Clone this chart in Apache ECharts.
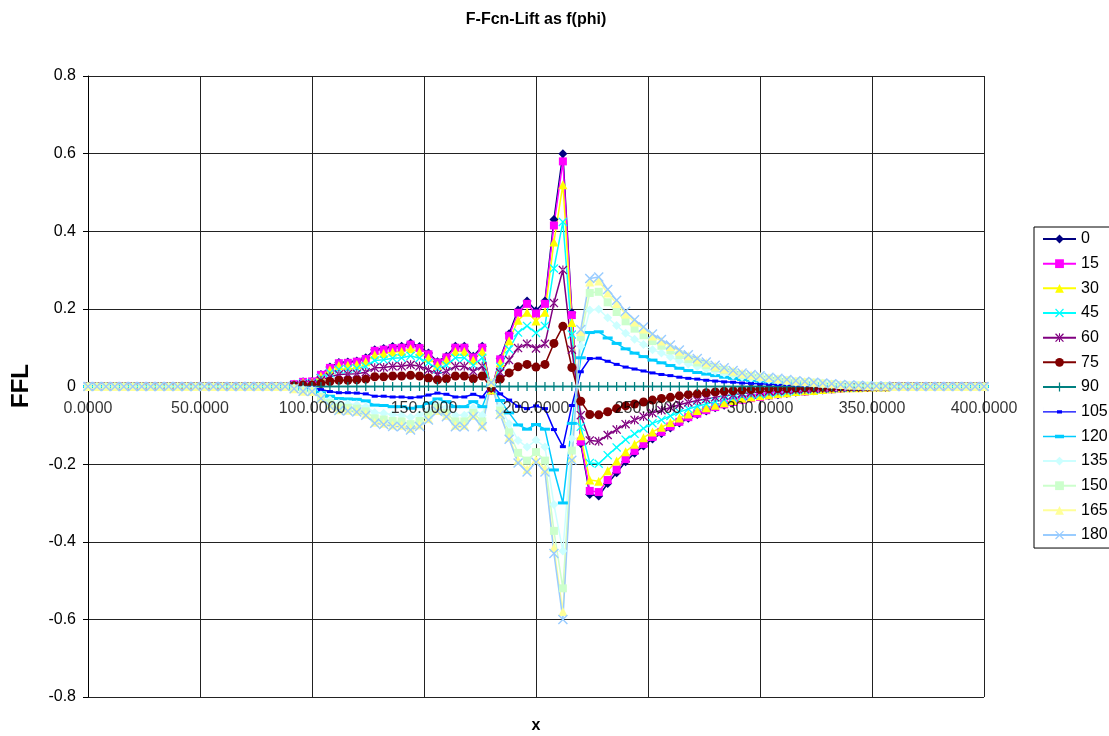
<!DOCTYPE html>
<html>
<head>
<meta charset="utf-8">
<script src="https://cdn.jsdelivr.net/npm/echarts@6/dist/echarts.min.js"></script>
<style>html,body{margin:0;padding:0;background:#fff}#c{width:1109px;height:736px}</style>
</head>
<body>
<div id="c"></div>
<script>
const xs = [0,4,8,12,16,20,24,28,32,36,40,44,48,52,56,60,64,68,72,76,80,84,88,92,96,100,104,108,112,116,120,124,128,132,136,140,144,148,152,156,160,164,168,172,176,180,184,188,192,196,200,204,208,212,216,220,224,228,232,236,240,244,248,252,256,260,264,268,272,276,280,284,288,292,296,300,304,308,312,316,320,324,328,332,336,340,344,348,352,356,360,364,368,372,376,380,384,388,392,396,400];

const xTicks = [0,50,100,150,200,250,300,350,400];

const s0 = [0,0,0,0,0,0,0,0,0,0,0,0,0,0,0,0,0,0,0,0,0,0,0,
0.006,0.012,0.013,0.031,0.050,0.062,0.063,0.066,0.074,0.095,0.098,0.103,0.104,0.112,0.103,0.086,0.064,0.078,0.104,0.104,0.078,0.104,
-0.010,0.072,0.136,0.197,0.220,0.195,0.220,0.430,0.600,0.190,
-0.147,-0.278,-0.282,-0.250,-0.222,-0.194,-0.172,-0.153,-0.135,-0.121,-0.107,-0.094,-0.082,-0.072,-0.063,-0.055,-0.048,-0.041,-0.035,-0.031,-0.028,-0.024,-0.021,-0.018,-0.015,-0.013,-0.011,-0.009,-0.007,-0.005,-0.004,-0.003,-0.002,-0.001,-0.001,
0,0,0,0,0,0,0,0,0,0,0];

const s15 = [0,0,0,0,0,0,0,0,0,0,0,0,0,0,0,0,0,0,0,0,0,0,0,
0.006,0.012,0.013,0.030,0.048,0.060,0.061,0.064,0.071,0.092,0.095,0.099,0.100,0.108,0.099,0.083,0.062,0.075,0.100,0.100,0.075,0.100,
-0.010,0.070,0.131,0.190,0.213,0.188,0.213,0.415,0.580,0.184,
-0.142,-0.269,-0.272,-0.241,-0.214,-0.187,-0.166,-0.148,-0.130,-0.117,-0.103,-0.091,-0.079,-0.070,-0.061,-0.053,-0.046,-0.040,-0.034,-0.030,-0.027,-0.023,-0.020,-0.017,-0.014,-0.013,-0.011,-0.009,-0.007,-0.005,-0.004,-0.003,-0.002,-0.001,-0.001,
0,0,0,0,0,0,0,0,0,0,0];

const s30 = [0,0,0,0,0,0,0,0,0,0,0,0,0,0,0,0,0,0,0,0,0,0,0,
0.005,0.010,0.011,0.027,0.043,0.054,0.055,0.057,0.064,0.082,0.085,0.089,0.090,0.097,0.089,0.074,0.055,0.068,0.090,0.090,0.068,0.090,
-0.009,0.062,0.118,0.171,0.191,0.169,0.191,0.372,0.520,0.165,
-0.127,-0.241,-0.244,-0.217,-0.192,-0.168,-0.149,-0.132,-0.117,-0.105,-0.093,-0.081,-0.071,-0.062,-0.055,-0.048,-0.042,-0.036,-0.030,-0.027,-0.024,-0.021,-0.018,-0.016,-0.013,-0.011,-0.010,-0.008,-0.006,-0.004,-0.003,-0.003,-0.002,-0.001,-0.001,
0,0,0,0,0,0,0,0,0,0,0];

const s45 = [0,0,0,0,0,0,0,0,0,0,0,0,0,0,0,0,0,0,0,0,0,0,0,
0.004,0.008,0.009,0.022,0.035,0.044,0.045,0.047,0.052,0.067,0.069,0.073,0.074,0.079,0.073,0.061,0.045,0.055,0.074,0.074,0.055,0.074,
-0.007,0.051,0.096,0.139,0.156,0.138,0.156,0.304,0.424,0.134,
-0.104,-0.197,-0.199,-0.177,-0.157,-0.137,-0.122,-0.108,-0.095,-0.086,-0.076,-0.066,-0.058,-0.051,-0.045,-0.039,-0.034,-0.029,-0.025,-0.022,-0.020,-0.017,-0.015,-0.013,-0.011,-0.009,-0.008,-0.006,-0.005,-0.004,-0.003,-0.002,-0.001,-0.001,-0.001,
0,0,0,0,0,0,0,0,0,0,0];

const s60 = [0,0,0,0,0,0,0,0,0,0,0,0,0,0,0,0,0,0,0,0,0,0,0,
0.003,0.006,0.007,0.016,0.025,0.031,0.032,0.033,0.037,0.048,0.049,0.052,0.052,0.056,0.052,0.043,0.032,0.039,0.052,0.052,0.039,0.052,
-0.005,0.036,0.068,0.099,0.110,0.098,0.110,0.215,0.300,0.095,
-0.074,-0.139,-0.141,-0.125,-0.111,-0.097,-0.086,-0.077,-0.068,-0.061,-0.054,-0.047,-0.041,-0.036,-0.032,-0.028,-0.024,-0.021,-0.018,-0.016,-0.014,-0.012,-0.011,-0.009,-0.008,-0.007,-0.006,-0.005,-0.004,-0.003,-0.002,-0.002,-0.001,-0.001,-0.001,
0,0,0,0,0,0,0,0,0,0,0];

const s75 = [0,0,0,0,0,0,0,0,0,0,0,0,0,0,0,0,0,0,0,0,0,0,0,
0.002,0.003,0.003,0.008,0.013,0.016,0.016,0.017,0.019,0.025,0.025,0.027,0.027,0.029,0.027,0.022,0.017,0.020,0.027,0.027,0.020,0.027,
-0.003,0.019,0.035,0.051,0.057,0.050,0.057,0.111,0.155,0.049,
-0.038,-0.072,-0.073,-0.065,-0.057,-0.050,-0.045,-0.040,-0.035,-0.031,-0.028,-0.024,-0.021,-0.019,-0.016,-0.014,-0.012,-0.011,-0.009,-0.008,-0.007,-0.006,-0.005,-0.005,-0.004,-0.003,-0.003,-0.002,-0.002,-0.001,-0.001,-0.001,-0.001,0,0,
0,0,0,0,0,0,0,0,0,0,0];

const s90 = [0,0,0,0,0,0,0,0,0,0,0,0,0,0,0,0,0,0,0,0,0,0,0,
0,0,0,0,0,0,0,0,0,0,0,0,0,0,0,0,0,0,0,0,0,0,
0,0,0,0,0,0,0,0,0,0,
0,0,0,0,0,0,0,0,0,0,0,0,0,0,0,0,0,0,0,0,0,0,0,0,0,0,0,0,0,0,0,0,0,0,0,
0,0,0,0,0,0,0,0,0,0,0];

const s105 = [0,0,0,0,0,0,0,0,0,0,0,0,0,0,0,0,0,0,0,0,0,0,0,
-0.002,-0.003,-0.003,-0.008,-0.013,-0.016,-0.016,-0.017,-0.019,-0.025,-0.025,-0.027,-0.027,-0.029,-0.027,-0.022,-0.017,-0.020,-0.027,-0.027,-0.020,-0.027,
0.003,-0.019,-0.035,-0.051,-0.057,-0.050,-0.057,-0.111,-0.155,-0.049,
0.038,0.072,0.073,0.065,0.057,0.050,0.045,0.040,0.035,0.031,0.028,0.024,0.021,0.019,0.016,0.014,0.012,0.011,0.009,0.008,0.007,0.006,0.005,0.005,0.004,0.003,0.003,0.002,0.002,0.001,0.001,0.001,0.001,0,0,
0,0,0,0,0,0,0,0,0,0,0];

const s120 = [0,0,0,0,0,0,0,0,0,0,0,0,0,0,0,0,0,0,0,0,0,0,0,
-0.003,-0.006,-0.007,-0.016,-0.025,-0.031,-0.032,-0.033,-0.037,-0.048,-0.049,-0.052,-0.052,-0.056,-0.052,-0.043,-0.032,-0.039,-0.052,-0.052,-0.039,-0.052,
0.005,-0.036,-0.068,-0.099,-0.110,-0.098,-0.110,-0.215,-0.300,-0.095,
0.074,0.139,0.141,0.125,0.111,0.097,0.086,0.077,0.068,0.061,0.054,0.047,0.041,0.036,0.032,0.028,0.024,0.021,0.018,0.016,0.014,0.012,0.011,0.009,0.008,0.007,0.006,0.005,0.004,0.003,0.002,0.002,0.001,0.001,0.001,
0,0,0,0,0,0,0,0,0,0,0];

const s135 = [0,0,0,0,0,0,0,0,0,0,0,0,0,0,0,0,0,0,0,0,0,0,0,
-0.004,-0.008,-0.009,-0.022,-0.035,-0.044,-0.045,-0.047,-0.052,-0.067,-0.069,-0.073,-0.074,-0.079,-0.073,-0.061,-0.045,-0.055,-0.074,-0.074,-0.055,-0.074,
0.007,-0.051,-0.096,-0.139,-0.156,-0.138,-0.156,-0.304,-0.424,-0.134,
0.104,0.197,0.199,0.177,0.157,0.137,0.122,0.108,0.095,0.086,0.076,0.066,0.058,0.051,0.045,0.039,0.034,0.029,0.025,0.022,0.020,0.017,0.015,0.013,0.011,0.009,0.008,0.006,0.005,0.004,0.003,0.002,0.001,0.001,0.001,
0,0,0,0,0,0,0,0,0,0,0];

const s150 = [0,0,0,0,0,0,0,0,0,0,0,0,0,0,0,0,0,0,0,0,0,0,0,
-0.005,-0.010,-0.011,-0.027,-0.043,-0.054,-0.055,-0.057,-0.064,-0.082,-0.085,-0.089,-0.090,-0.097,-0.089,-0.074,-0.055,-0.068,-0.090,-0.090,-0.068,-0.090,
0.009,-0.062,-0.118,-0.171,-0.191,-0.169,-0.191,-0.372,-0.520,-0.165,
0.127,0.241,0.244,0.217,0.192,0.168,0.149,0.132,0.117,0.105,0.093,0.081,0.071,0.062,0.055,0.048,0.042,0.036,0.030,0.027,0.024,0.021,0.018,0.016,0.013,0.011,0.010,0.008,0.006,0.004,0.003,0.003,0.002,0.001,0.001,
0,0,0,0,0,0,0,0,0,0,0];

const s165 = [0,0,0,0,0,0,0,0,0,0,0,0,0,0,0,0,0,0,0,0,0,0,0,
-0.006,-0.012,-0.013,-0.030,-0.048,-0.060,-0.061,-0.064,-0.071,-0.092,-0.095,-0.099,-0.100,-0.108,-0.099,-0.083,-0.062,-0.075,-0.100,-0.100,-0.075,-0.100,
0.010,-0.070,-0.131,-0.190,-0.213,-0.188,-0.213,-0.415,-0.580,-0.184,
0.142,0.269,0.272,0.241,0.214,0.187,0.166,0.148,0.130,0.117,0.103,0.091,0.079,0.070,0.061,0.053,0.046,0.040,0.034,0.030,0.027,0.023,0.020,0.017,0.014,0.013,0.011,0.009,0.007,0.005,0.004,0.003,0.002,0.001,0.001,
0,0,0,0,0,0,0,0,0,0,0];

const s180 = [0,0,0,0,0,0,0,0,0,0,0,0,0,0,0,0,0,0,0,0,0,0,0,
-0.006,-0.012,-0.013,-0.031,-0.050,-0.062,-0.063,-0.066,-0.074,-0.095,-0.098,-0.103,-0.104,-0.112,-0.103,-0.086,-0.064,-0.078,-0.104,-0.104,-0.078,-0.104,
0.010,-0.072,-0.136,-0.197,-0.220,-0.195,-0.220,-0.430,-0.600,-0.190,
0.147,0.278,0.282,0.250,0.222,0.194,0.172,0.153,0.135,0.121,0.107,0.094,0.082,0.072,0.063,0.055,0.048,0.041,0.035,0.031,0.028,0.024,0.021,0.018,0.015,0.013,0.011,0.009,0.007,0.005,0.004,0.003,0.002,0.001,0.001,
0,0,0,0,0,0,0,0,0,0,0];

const seriesNames = ['0','15','30','45','60','75','90','105','120','135','150','165','180'];
const seriesValues = [s0,s15,s30,s45,s60,s75,s90,s105,s120,s135,s150,s165,s180];

// styles
const X_PATH = 'path://M0,1L1,0L5,4L9,0L10,1L6,5L10,9L9,10L5,6L1,10L0,9L4,5Z';
const PLUS_PATH = 'path://M4.3,0H5.7V4.3H10V5.7H5.7V10H4.3V5.7H0V4.3H4.3Z';
const STAR_PATH = 'path://M0,1L1,0L5,4L9,0L10,1L6,5L10,9L9,10L5,6L1,10L0,9L4,5Z M4.4,0V10H5.6V0Z';
const styles = [
  {c:'#000080', sym:'diamond', size:9},
  {c:'#FF00FF', sym:'rect', size:8},
  {c:'#FFFF00', sym:'triangle', size:9},
  {c:'#00FFFF', sym:X_PATH, size:9},
  {c:'#800080', sym:STAR_PATH, size:9},
  {c:'#800000', sym:'circle', size:9},
  {c:'#008080', sym:PLUS_PATH, size:9},
  {c:'#0000FF', sym:'rect', size:[6,3], icon:'path://M0,5H33V6.4H0Z M14,4H19V7.4H14Z M0,0H0.01V11H0Z'},
  {c:'#00CCFF', sym:'rect', size:[10,3], icon:'path://M0,5H33V6.4H0Z M12,4H21V7.4H12Z M0,0H0.01V11H0Z'},
  {c:'#CCFFFF', sym:'diamond', size:9},
  {c:'#CCFFCC', sym:'rect', size:8},
  {c:'#FFFF99', sym:'triangle', size:9},
  {c:'#99CCFF', sym:X_PATH, size:10}
];

const FONT = '"Liberation Sans", Arial, sans-serif';

const series = seriesNames.map((n, k) => ({
  name: n,
  type: 'line',
  data: xs.map((x, i) => [x, seriesValues[k][i]]),
  symbol: styles[k].sym,
  symbolSize: styles[k].size,
  showSymbol: true,
  showAllSymbol: true,
  lineStyle: {color: styles[k].c, width: 1.5},
  itemStyle: {color: styles[k].c, borderColor: styles[k].c, borderWidth: 0},
  emphasis: {disabled: true},
  animation: false
}));

// x tick labels placed on the zero line (axis crosses at y = 0)
series.push({
  name: 'xlabels',
  type: 'scatter',
  data: xTicks.map(t => [t, 0]),
  symbolSize: 0,
  silent: true,
  z: 10,
  label: {
    show: true, position: 'bottom', distance: 14,
    color: '#000', fontSize: 16, fontFamily: FONT,
    formatter: p => p.value[0].toFixed(4)
  },
  animation: false
});

const legendData = seriesNames.map((n, k) => styles[k].icon ? {name: n, icon: styles[k].icon} : {name: n});

const chart = echarts.init(document.getElementById('c'), null, {renderer: 'canvas'});
chart.setOption({
  backgroundColor: '#fff',
  animation: false,
  textStyle: {fontFamily: FONT},
  grid: {left: 88, right: 125, top: 76, bottom: 39, containLabel: false},
  xAxis: {
    type: 'value', min: 0, max: 400, interval: 50,
    axisLine: {show: true, onZero: true, lineStyle: {color: '#000', width: 1}},
    axisTick: {show: false},
    axisLabel: {show: false},
    splitLine: {show: true, lineStyle: {color: '#222', width: 1}}
  },
  yAxis: {
    type: 'value', min: -0.8, max: 0.8, interval: 0.2,
    axisLine: {show: true, onZero: false, lineStyle: {color: '#000', width: 1}},
    axisTick: {show: true, length: 5, inside: false, lineStyle: {color: '#000'}},
    axisLabel: {color: '#000', fontSize: 16, fontFamily: FONT, margin: 12,
      formatter: v => (Math.abs(v) < 1e-9 ? '0' : String(+v.toFixed(1)))},
    splitLine: {show: true, lineStyle: {color: '#222', width: 1}}
  },
  legend: {
    orient: 'vertical',
    left: 1034, top: 227,
    padding: [4, 2, 5, 8],
    itemGap: 8.67,
    itemWidth: 33, itemHeight: 11,
    backgroundColor: '#fff',
    borderColor: '#000', borderWidth: 1, borderRadius: 0,
    textStyle: {color: '#000', fontSize: 16, fontFamily: FONT},
    data: legendData
  },
  graphic: [
    {type: 'text', x: 536, y: 20, style: {text: 'F-Fcn-Lift as f(phi)', font: 'bold 16px ' + FONT, fill: '#000', textAlign: 'center', textVerticalAlign: 'middle', align: 'center', verticalAlign: 'middle'}},
    {type: 'text', x: 536, y: 726, style: {text: 'x', font: 'bold 16px ' + FONT, fill: '#000', textAlign: 'center', textVerticalAlign: 'middle', align: 'center', verticalAlign: 'middle'}},
    {type: 'text', x: 21, y: 386, rotation: Math.PI / 2, style: {text: 'FFL', font: 'bold 24px ' + FONT, fill: '#000', textAlign: 'center', textVerticalAlign: 'middle', align: 'center', verticalAlign: 'middle'}}
  ],
  series: series
});
</script>
</body>
</html>
